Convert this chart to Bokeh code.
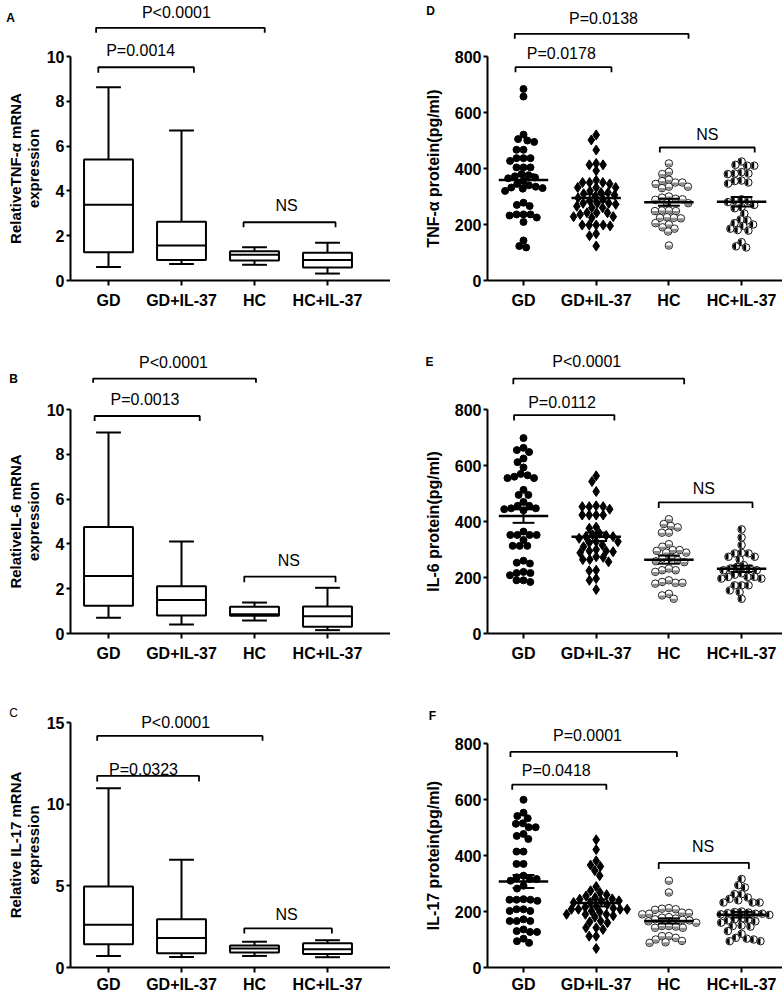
import numpy as np
from bokeh.plotting import figure
from bokeh.layouts import column, row
from bokeh.models import Range1d, FixedTicker
from bokeh.embed import file_html
from bokeh.resources import INLINE
from bokeh.core.properties import value

FONT = "Liberation Sans"

categories = ["GD", "GD+IL-37", "HC", "HC+IL-37"]

# ---------------- mRNA box plots: min, q1, median, q3, max ----------------
tnf_mrna_min = [0.60, 0.74, 0.70, 0.31]
tnf_mrna_q1 = [1.26, 0.92, 0.89, 0.58]
tnf_mrna_med = [3.38, 1.56, 1.15, 0.91]
tnf_mrna_q3 = [5.40, 2.62, 1.31, 1.24]
tnf_mrna_max = [8.63, 6.70, 1.48, 1.68]

il6_mrna_min = [0.70, 0.40, 0.58, 0.15]
il6_mrna_q1 = [1.24, 0.80, 0.79, 0.30]
il6_mrna_med = [2.57, 1.49, 0.86, 0.77]
il6_mrna_q3 = [4.76, 2.11, 1.19, 1.21]
il6_mrna_max = [8.97, 4.11, 1.38, 2.04]

il17_mrna_min = [0.71, 0.65, 0.71, 0.63]
il17_mrna_q1 = [1.43, 0.88, 0.92, 0.82]
il17_mrna_med = [2.61, 1.80, 1.16, 1.12]
il17_mrna_q3 = [4.96, 2.96, 1.35, 1.49]
il17_mrna_max = [10.98, 6.59, 1.58, 1.67]

# ---------------- protein scatter values (pg/ml) ----------------
tnf_gd = [684, 657, 521, 505, 500, 495, 467, 467, 437, 437, 437, 427, 404, 404, 404,
          380, 376, 372, 368, 365, 356, 345, 340, 335, 332, 330, 328, 320, 278, 270,
          266, 236, 236, 232, 225, 236, 209, 143, 123, 118]
tnf_gd_il37 = [520, 502, 466, 418, 413, 413, 392, 358, 350, 350, 350, 345, 332, 332, 332,
               320, 314, 314, 310, 305, 300, 295, 290, 285, 276, 276, 276, 272, 265, 260,
               260, 242, 242, 242, 236, 228, 228, 224, 198, 198, 198, 195, 198, 167, 160, 123]
tnf_hc = [418, 388, 380, 360, 355, 350, 350, 345, 335, 335, 330, 300, 296, 292, 290, 288,
          276, 276, 250, 250, 248, 248, 226, 224, 224, 222, 205, 200, 185, 190, 175, 125]
tnf_hc_il37 = [425, 413, 410, 410, 387, 382, 382, 380, 357, 355, 350, 346, 290, 287, 284,
               280, 270, 262, 258, 239, 218, 215, 205, 200, 195, 185, 180, 178, 137, 122, 118]

il6_gd = [698, 663, 655, 648, 612, 625, 593, 570, 560, 555, 555, 565, 513, 495, 495,
          444, 447, 456, 447, 456, 470, 440, 364, 352, 352, 352, 352, 334, 313, 313, 313,
          260, 250, 253, 220, 216, 216, 208, 190, 184, 190]
il6_gd_il37 = [563, 543, 507, 453, 453, 444, 456, 453, 423, 423, 423, 423, 376, 358, 352,
               346, 346, 328, 328, 324, 316, 295, 288, 295, 292, 274, 272, 264, 264, 256,
               226, 224, 196, 190, 157, 340, 350, 300, 310, 380]
il6_hc = [408, 391, 384, 379, 360, 360, 319, 310, 298, 289, 289, 295, 298, 271, 268, 262,
          258, 255, 226, 220, 226, 232, 178, 181, 190, 181, 184, 142, 136, 124]
il6_hc_il37 = [372, 343, 316, 286, 286, 288, 264, 274, 274, 244, 232, 238, 232, 226, 226,
               215, 210, 202, 202, 196, 202, 196, 172, 172, 172, 154, 148, 124]

il17_gd = [599, 553, 541, 533, 513, 501, 501, 515, 477, 470, 459, 414, 414, 370, 370,
           316, 316, 310, 322, 328, 292, 282, 244, 242, 238, 242, 242, 208, 202, 202, 208,
           166, 166, 166, 172, 136, 127, 127, 130, 88, 94, 103]
il17_gd_il37 = [456, 421, 381, 366, 346, 361, 328, 289, 274, 268, 232, 238, 244, 238, 232,
                208, 208, 208, 208, 202, 190, 190, 190, 198, 166, 160, 163, 142, 136, 142,
                112, 112, 68, 250, 255, 225, 220, 215, 212, 185, 180, 260, 245]
il17_hc = [310, 268, 212, 208, 210, 206, 195, 192, 190, 196, 175, 172, 168, 170, 165, 142,
           142, 148, 146, 148, 112, 106, 88, 100, 112, 90, 95, 180, 178, 160]
il17_hc_il37 = [316, 294, 286, 262, 262, 250, 245, 240, 232, 232, 232, 200, 198, 196, 194,
                192, 192, 190, 188, 175, 172, 170, 168, 150, 148, 146, 106, 100, 94, 94, 103,
                120, 130, 160, 165]

# ---------------- significance annotations: (text, x_left, x_right, y_bar, y_tick_end, text_x, text_y)
tnf_mrna_sig = [("P<0.0001", -0.17, 2.14, 11.28, 11.06, 0.93, 11.98),
                ("P=0.0014", -0.14, 1.17, 9.52, 9.27, 0.44, 10.27),
                ("NS", 1.85, 3.11, 2.60, 2.38, 2.44, 3.35)]
il6_mrna_sig = [("P<0.0001", -0.21, 2.02, 11.38, 11.19, 0.89, 12.08),
                ("P=0.0013", -0.19, 1.25, 9.71, 9.49, 0.50, 10.44),
                ("NS", 1.86, 3.11, 2.54, 2.29, 2.47, 3.26)]
il17_mrna_sig = [("P<0.0001", -0.155, 2.11, 14.18, 13.88, 0.92, 15.00),
                 ("P=0.0323", -0.155, 1.24, 11.73, 11.39, 0.48, 12.10),
                 ("NS", 1.86, 3.06, 2.39, 2.08, 2.44, 3.27)]
tnf_prot_sig = [("P=0.0138", -0.12, 2.27, 881, 863, 1.10, 935),
                ("P=0.0178", -0.11, 1.21, 762, 744, 0.52, 810),
                ("NS", 1.875, 3.18, 475, 457, 2.53, 523)]
il6_prot_sig = [("P<0.0001", -0.14, 2.21, 910, 890, 0.87, 973),
                ("P=0.0112", -0.13, 1.25, 780, 761, 0.53, 824),
                ("NS", 1.86, 3.15, 468, 448, 2.48, 519)]
il17_prot_sig = [("P=0.0001", -0.18, 2.11, 770, 752, 0.88, 830),
                 ("P=0.0418", -0.155, 1.14, 653, 635, 0.45, 704),
                 ("NS", 1.86, 3.10, 374, 352, 2.47, 433)]


def base_fig(width, height, b_bottom, cat_px, gd_px, axis_px, y_px, yticks, ymax,
             xlabel_standoff):
    x0 = -gd_px / cat_px
    x1 = x0 + width / cat_px
    xaxis_loc = (axis_px - gd_px) / cat_px
    y0 = -b_bottom / y_px
    y1 = (height - b_bottom) / y_px
    p = figure(width=width, height=height, x_range=Range1d(x0, x1),
               y_range=Range1d(y0, y1), output_backend="svg",
               toolbar_location=None, min_border_left=0, min_border_right=0,
               min_border_top=0, min_border_bottom=0, outline_line_color=None,
               background_fill_color="white", border_fill_color="white")
    p.grid.visible = False
    xa = p.xaxis[0]
    ya = p.yaxis[0]
    for ax in (xa, ya):
        ax.axis_line_width = 2
        ax.axis_line_color = "black"
        ax.major_tick_line_width = 2
        ax.major_tick_line_color = "black"
        ax.minor_tick_line_color = None
        ax.major_tick_in = 0
        ax.major_label_text_font = FONT
        ax.major_label_text_font_style = "bold"
        ax.major_label_text_font_size = "16px"
        ax.major_label_text_color = "black"
    xa.major_tick_out = 5
    ya.major_tick_out = 4
    xa.ticker = FixedTicker(ticks=[0, 1, 2, 3])
    xa.major_label_overrides = {i: c for i, c in enumerate(categories)}
    xa.major_label_standoff = xlabel_standoff
    xa.bounds = (xaxis_loc, x1)
    xa.fixed_location = 0
    ya.fixed_location = xaxis_loc
    ya.ticker = FixedTicker(ticks=yticks)
    ya.bounds = (0, ymax)
    ya.major_label_standoff = 2
    return p


def add_sig(p, sig):
    for (txt, xl, xr, yb, yt, tx, ty) in sig:
        p.line([xl, xl, xr, xr], [yt, yb, yb, yt], line_color="black", line_width=1.8)
        p.text(x=[tx], y=[ty], text=[txt], text_font=value(FONT), text_font_size="16px",
               text_align="center", text_baseline="middle", text_color="black")


def add_text(p, x, y, txt, size, bold=True, angle=0.0):
    p.text(x=[x], y=[y], text=[txt], text_font=value(FONT), text_font_size=size,
           text_font_style="bold" if bold else "normal", angle=angle,
           text_align="center", text_baseline="middle", text_color="black")


def add_boxes(p, mn, q1, md, q3, mx):
    idx = np.arange(4, dtype=float)
    hw, cw = 0.335, 0.17
    p.segment(x0=idx, x1=idx, y0=q3, y1=mx, line_color="black", line_width=2)
    p.segment(x0=idx, x1=idx, y0=mn, y1=q1, line_color="black", line_width=2)
    p.segment(x0=idx - cw, x1=idx + cw, y0=mx, y1=mx, line_color="black", line_width=2)
    p.segment(x0=idx - cw, x1=idx + cw, y0=mn, y1=mn, line_color="black", line_width=2)
    p.quad(left=idx - hw, right=idx + hw, bottom=q1, top=q3, fill_color="white",
           line_color="black", line_width=2)
    p.segment(x0=idx - hw, x1=idx + hw, y0=md, y1=md, line_color="black", line_width=2)


def swarm(vals, y_px, cat_px, d):
    ys = np.asarray(vals, dtype=float) * y_px
    order = np.argsort(-ys, kind="stable")
    xs = np.zeros(len(ys))
    placed = []
    for i in order:
        y = ys[i]
        forb = []
        for (xj, yj) in placed:
            dy = abs(y - yj)
            if dy < d:
                dx = np.sqrt(d * d - dy * dy)
                forb.append((xj - dx, xj + dx))
        cands = [0.0] + [a for a, b in forb] + [b for a, b in forb]
        cands.sort(key=lambda c: (abs(c), c))
        for c in cands:
            if all(not (a + 1e-6 < c < b - 1e-6) for a, b in forb):
                xs[i] = c
                break
        placed.append((xs[i], y))
    return xs / cat_px


def add_scatter(p, groups, y_px, cat_px):
    for gi, vals in enumerate(groups):
        v = np.asarray(vals, dtype=float)
        x = gi + swarm(v, y_px, cat_px, 7.0)
        if gi == 0:
            p.scatter(x, v, marker="circle", size=7, fill_color="black", line_color="black")
        elif gi == 1:
            p.scatter(x, v, marker="diamond", size=10, fill_color="black", line_color="black")
        elif gi == 2:
            p.scatter(x, v, marker="circle", size=7.5, fill_color="white", line_color="#222222",
                      line_width=1)
            p.wedge(x=x, y=v, radius=3.0, radius_units="screen", start_angle=np.pi,
                    end_angle=2 * np.pi, fill_color="#8a8a8a", line_color=None)
        else:
            p.scatter(x, v, marker="circle", size=7.5, fill_color="white", line_color="#111111",
                      line_width=1)
            p.wedge(x=x, y=v, radius=3.0, radius_units="screen", start_angle=np.pi / 2,
                    end_angle=3 * np.pi / 2, fill_color="black", line_color=None)
    for gi, vals in enumerate(groups):
        v = np.asarray(vals, dtype=float)
        m = v.mean()
        s = v.std(ddof=1) / np.sqrt(len(v))
        p.segment(x0=[gi - 0.34], x1=[gi + 0.34], y0=[m], y1=[m], line_color="black",
                  line_width=2.5)
        p.segment(x0=[gi - 0.15, gi - 0.15, gi], x1=[gi + 0.15, gi + 0.15, gi],
                  y0=[m + s, m - s, m - s], y1=[m + s, m - s, m + s], line_color="black",
                  line_width=2)


# layout constants (pixels)
L_W, R_W = 390, 392
L_CAT, R_CAT = 73.0, 72.7
L_GD, R_GD = 108.0, 133.0      # first category centre, measured from each figure's left edge
L_AX, R_AX = 70.0, 97.0        # y-axis position from each figure's left edge
ROW_H = [320, 345, 328]
ROW_BB = [40, 32, 26]
XSTAND = [6, 6, 3]
MRNA_PX = [22.4, 22.4, 16.333]
PROT_PX = 0.28

mrna_lab1 = ["RelativeTNF-\u03b1 mRNA", "RelativeIL-6 mRNA", "Relative IL-17 mRNA"]
mrna_lab2 = ["expression", "expression", "expression"]
prot_labels = ["TNF-\u03b1 protein(pg/ml)", "IL-6 protein(pg/ml)", "IL-17 protein(pg/ml)"]
mrna_data = [
    (tnf_mrna_min, tnf_mrna_q1, tnf_mrna_med, tnf_mrna_q3, tnf_mrna_max),
    (il6_mrna_min, il6_mrna_q1, il6_mrna_med, il6_mrna_q3, il6_mrna_max),
    (il17_mrna_min, il17_mrna_q1, il17_mrna_med, il17_mrna_q3, il17_mrna_max),
]
mrna_ticks = [[0, 2, 4, 6, 8, 10], [0, 2, 4, 6, 8, 10], [0, 5, 10, 15]]
mrna_max = [10, 10, 15]
mrna_sigs = [tnf_mrna_sig, il6_mrna_sig, il17_mrna_sig]
prot_data = [
    (tnf_gd, tnf_gd_il37, tnf_hc, tnf_hc_il37),
    (il6_gd, il6_gd_il37, il6_hc, il6_hc_il37),
    (il17_gd, il17_gd_il37, il17_hc, il17_hc_il37),
]
prot_sigs = [tnf_prot_sig, il6_prot_sig, il17_prot_sig]
left_letters = [("A", 10, 11.70, True), ("B", 13, 11.38, True), ("C", 13, 15.61, False)]
right_letters = [("D", 40, 964, True), ("E", 39, 968, True), ("F", 42, 900, True)]

rows = []
for r in range(3):
    pl = base_fig(L_W, ROW_H[r], ROW_BB[r], L_CAT, L_GD, L_AX, MRNA_PX[r],
                  mrna_ticks[r], mrna_max[r], XSTAND[r])
    add_boxes(pl, *mrna_data[r])
    add_sig(pl, mrna_sigs[r])
    lt, lx, ly, lb = left_letters[r]
    add_text(pl, (lx - L_GD) / L_CAT, ly, lt, "12px", lb)
    ymid = mrna_max[r] / 2
    add_text(pl, (15 - L_GD) / L_CAT, ymid, mrna_lab1[r], "15px", True, np.pi / 2)
    add_text(pl, (33 - L_GD) / L_CAT, ymid, mrna_lab2[r], "15px", True, np.pi / 2)

    pr = base_fig(R_W, ROW_H[r], ROW_BB[r], R_CAT, R_GD, R_AX, PROT_PX,
                  [0, 200, 400, 600, 800], 800, XSTAND[r])
    add_scatter(pr, prot_data[r], PROT_PX, R_CAT)
    add_sig(pr, prot_sigs[r])
    lt, lx, ly, lb = right_letters[r]
    add_text(pr, (lx - R_GD) / R_CAT, ly, lt, "12px", lb)
    add_text(pr, (43 - R_GD) / R_CAT, 400, prot_labels[r], "16px", True, np.pi / 2)
    rows.append(row(pl, pr))

layout = column(*rows)
open("out.html", "w").write(file_html(layout, INLINE))
